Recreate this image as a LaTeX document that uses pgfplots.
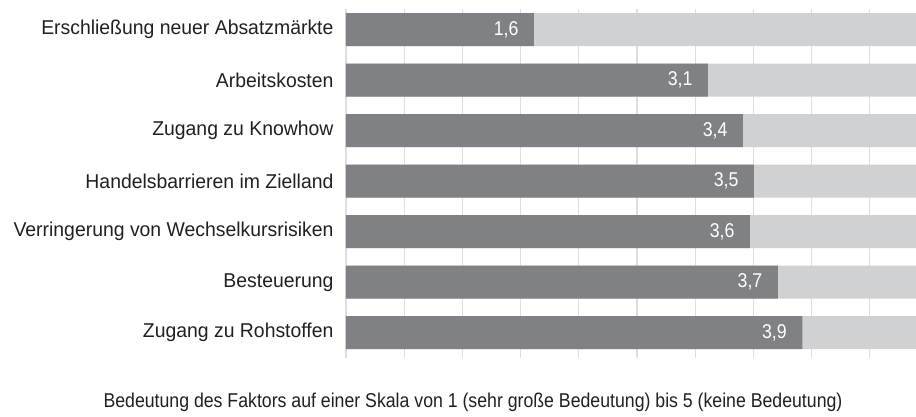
\documentclass[border=0pt]{standalone}
\usepackage{fontspec}
\setmainfont{Liberation Sans}[FakeStretch=0.885]
\newfontfamily\tickfont{Liberation Sans}[FakeStretch=0.97]
\usepackage{pgfplots}
\pgfplotsset{compat=1.18}
\definecolor{darkbar}{RGB}{128,129,133}
\definecolor{lightbar}{RGB}{208,209,211}
\definecolor{gridc}{RGB}{222,222,222}
\definecolor{txt}{RGB}{35,31,32}
\begin{document}
\begin{tikzpicture}[x=1pt,y=1pt]
\path[use as bounding box] (0,0) rectangle (916,416);
\begin{axis}[
  at={(346pt,58pt)}, anchor=south west,
  scale only axis, width=570pt, height=349pt,
  xmin=0, xmax=4.897, ymin=-0.406, ymax=6.5,
  y dir=reverse,
  axis line style={draw=none},
  major tick length=0pt,
  xtick={0,0.5,...,4.5}, xticklabels={},
  xmajorgrids, grid style={gridc, line width=1.2pt},
  ytick={0,...,6},
  yticklabels={Erschließung neuer Absatzmärkte, Arbeitskosten, Zugang zu Knowhow, Handelsbarrieren im Zielland, Verringerung von Wechselkursrisiken, Besteuerung, Zugang zu Rohstoffen},
  yticklabel style={font=\tickfont\fontsize{20}{24}\selectfont, text=txt, anchor=east, xshift=-9pt},
  clip=true,
]
\addplot[xbar, bar width=33pt, bar shift=0pt, fill=lightbar, draw=none] coordinates {
  (5,0) (5,1) (5,2) (5,3) (5,4) (5,5) (5,6)};
\addplot[xbar, bar width=33pt, bar shift=0pt, fill=darkbar, draw=none,
  point meta=explicit symbolic,
  nodes near coords,
  every node near coord/.append style={anchor=east, xshift=-12pt, text=white, font=\fontsize{20}{24}\selectfont}] coordinates {
  (1.615,0) [1,6]
  (3.11,1) [3,1]
  (3.41,2) [3,4]
  (3.505,3) [3,5]
  (3.47,4) [3,6]
  (3.71,5) [3,7]
  (3.92,6) [3,9]};
\end{axis}
\node[anchor=base, text=txt, font=\fontsize{20}{24}\selectfont] at (473,9) {Bedeutung des Faktors auf einer Skala von 1 (sehr große Bedeutung) bis 5 (keine Bedeutung)};
\end{tikzpicture}
\end{document}
